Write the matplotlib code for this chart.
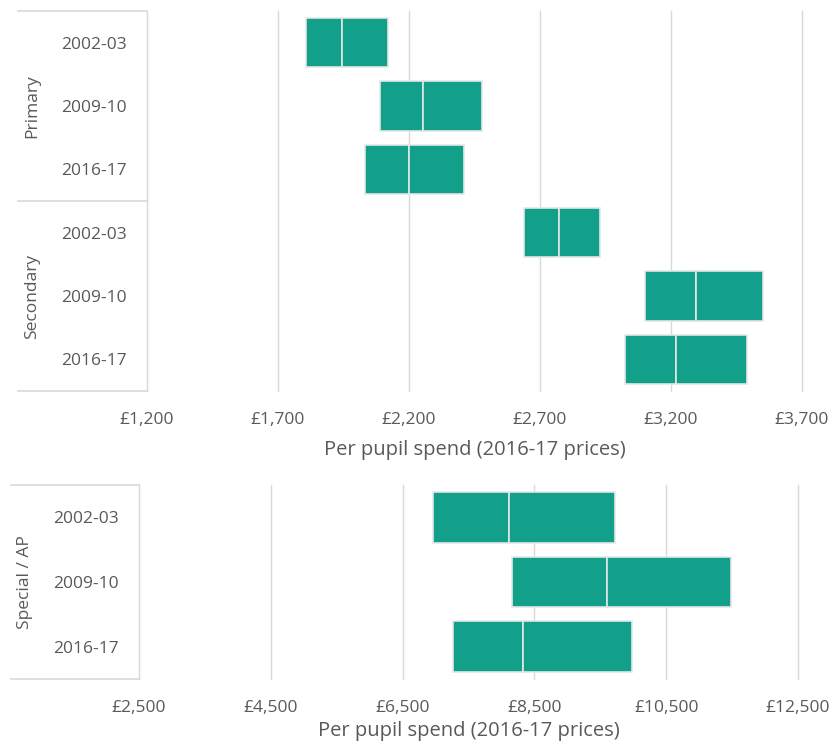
import numpy as np
import matplotlib
matplotlib.use("Agg")
import matplotlib.pyplot as plt
import matplotlib.transforms as mtrans

plt.rcParams['font.family'] = ['Open Sans', 'DejaVu Sans']

years = ["2002-03", "2009-10", "2016-17"]

# primary and secondary (top panel)
prim_q1 = [1807, 2089, 2032]
prim_med = [1944, 2253, 2200]
prim_q3 = [2120, 2479, 2410]
sec_q1 = [2639, 3101, 3025]
sec_med = [2773, 3296, 3219]
sec_q3 = [2929, 3551, 3490]

# special / AP (bottom panel)
spec_q1 = [6960, 8158, 7263]
spec_med = [8113, 9600, 8325]
spec_q3 = [9721, 11481, 9979]

top_ticks = [1200, 1700, 2200, 2700, 3200, 3700]
bot_ticks = [2500, 4500, 6500, 8500, 10500, 12500]

TEAL = "#12a08a"
GREY = "#595959"
LINE = "#d9d9d9"


def cajas(ax, q1, med, q3, pos):
    q1, med, q3 = np.array(q1), np.array(med), np.array(q3)
    ax.barh(pos, med - q1, left=q1, height=0.78, color=TEAL, edgecolor="#e6e6e6", linewidth=1.2, zorder=3)
    ax.barh(pos, q3 - med, left=med, height=0.78, color=TEAL, edgecolor="#e6e6e6", linewidth=1.2, zorder=3)


def formato(ax, ticks, n, lp):
    ax.set_xlim(ticks[0], ticks[-1])
    ax.set_xticks(ticks)
    ax.set_xticklabels([f"£{t:,}" for t in ticks], color=GREY, fontsize=12.5)
    ax.set_ylim(n - 0.5, -0.5)
    ax.grid(axis="x", color=LINE, linewidth=1, zorder=0)
    for g in ax.get_xgridlines():
        g.set_clip_on(False)
    for s in ["top", "right", "bottom"]:
        ax.spines[s].set_visible(False)
    ax.spines["left"].set_color(LINE)
    ax.tick_params(axis="both", length=0)
    ax.tick_params(axis="x", pad=15)
    ax.tick_params(axis="y", pad=14.5)
    ax.set_xlabel("Per pupil spend (2016-17 prices)", color=GREY, fontsize=14.5, labelpad=lp)


def marco(ax, fig, bordes, x0):
    # lineas del eje de categorias (agrupado)
    tr = mtrans.blended_transform_factory(fig.transFigure, ax.transData)
    for b in bordes:
        ax.plot([x0, ax.get_position().x0], [b, b], color=LINE, lw=1.2, transform=tr, clip_on=False)


fig = plt.figure(figsize=(8.32, 7.42), dpi=100)

ax1 = fig.add_axes([147 / 832, 1 - 391 / 742, (802 - 147) / 832, (391 - 11) / 742])
cajas(ax1, prim_q1, prim_med, prim_q3, np.arange(3))
cajas(ax1, sec_q1, sec_med, sec_q3, np.arange(3, 6))
formato(ax1, top_ticks, 6, 9)
ax1.set_yticks(np.arange(6))
ax1.set_yticklabels(years + years, color=GREY, fontsize=12.5)
marco(ax1, fig, [-0.5, 2.5, 5.5], 18 / 832)
tr1 = mtrans.blended_transform_factory(fig.transFigure, ax1.transData)
ax1.text(32 / 832, 1, "Primary", rotation=90, ha="center", va="center", color=GREY, fontsize=12.5, transform=tr1)
ax1.text(32 / 832, 4, "Secondary", rotation=90, ha="center", va="center", color=GREY, fontsize=12.5, transform=tr1)

ax2 = fig.add_axes([139 / 832, 1 - 679 / 742, (798 - 139) / 832, (679 - 485) / 742])
cajas(ax2, spec_q1, spec_med, spec_q3, np.arange(3))
formato(ax2, bot_ticks, 3, 4)
ax2.set_yticks(np.arange(3))
ax2.set_yticklabels(years, color=GREY, fontsize=12.5)
marco(ax2, fig, [-0.5, 2.5], 11 / 832)
tr2 = mtrans.blended_transform_factory(fig.transFigure, ax2.transData)
ax2.text(25 / 832, 1, "Special / AP", rotation=90, ha="center", va="center", color=GREY, fontsize=12.5, transform=tr2)

fig.savefig("out.png", dpi=100)
